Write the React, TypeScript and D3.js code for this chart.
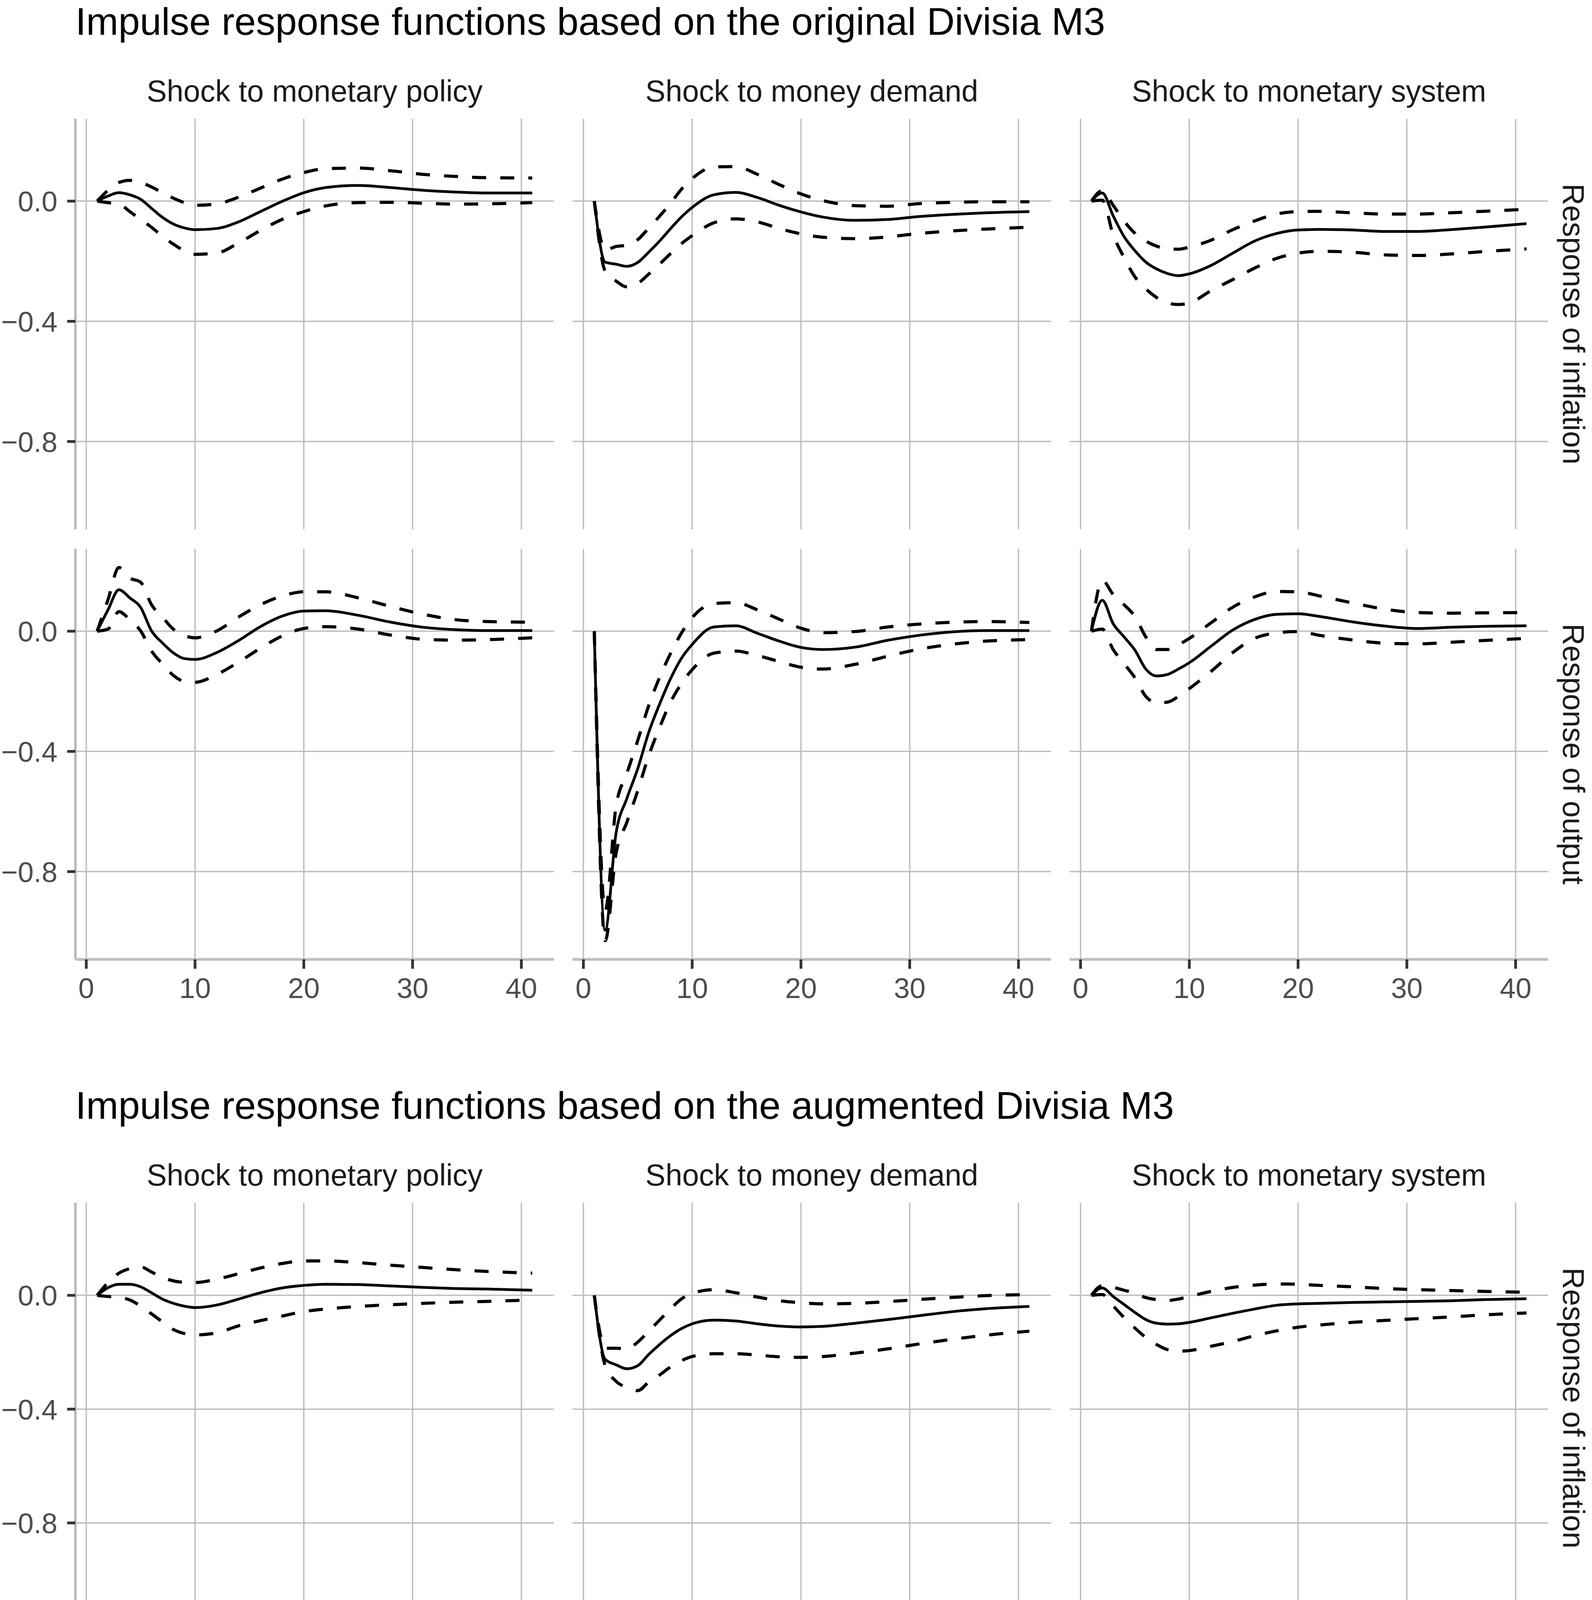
import React from "react";
import * as d3 from "d3";

// ---------------- DATA ----------------
const HORIZON = [1, 2, 3, 4, 5, 6, 7, 8, 9, 10, 12, 14, 16, 18, 20, 22, 25, 28, 31, 34, 37, 41];

const FIGURE_TITLES = [
  "Impulse response functions based on the original Divisia M3",
  "Impulse response functions based on the augmented Divisia M3",
];
const SHOCKS = ["Shock to monetary policy", "Shock to money demand", "Shock to monetary system"];
const RESPONSES = ["Response of inflation", "Response of output"];
const X_TICKS = [0, 10, 20, 30, 40];
const Y_TICKS = [-0.8, -0.4, 0.0];

// ---- Original Divisia M3 ----
// inflation, shock to monetary policy
const origPolicyInflMean = [0, 0.017, 0.028, 0.021, 0.006, -0.024, -0.054, -0.076, -0.089, -0.095, -0.091, -0.069, -0.035, -0.001, 0.028, 0.045, 0.052, 0.045, 0.036, 0.030, 0.027, 0.027];
const origPolicyInflUpper = [0, 0.036, 0.062, 0.069, 0.062, 0.047, 0.028, 0.010, -0.005, -0.014, -0.009, 0.013, 0.043, 0.073, 0.095, 0.108, 0.110, 0.101, 0.089, 0.082, 0.078, 0.077];
const origPolicyInflLower = [0, -0.005, -0.009, -0.035, -0.061, -0.087, -0.117, -0.143, -0.165, -0.177, -0.173, -0.139, -0.098, -0.061, -0.035, -0.016, -0.005, -0.004, -0.007, -0.010, -0.009, -0.005];
// inflation, shock to money demand
const origDemandInflMean = [0, -0.203, -0.210, -0.217, -0.204, -0.170, -0.133, -0.092, -0.053, -0.021, 0.021, 0.029, 0.012, -0.014, -0.036, -0.053, -0.064, -0.061, -0.051, -0.044, -0.039, -0.035];
const origDemandInflUpper = [0, -0.163, -0.151, -0.147, -0.128, -0.090, -0.050, -0.008, 0.039, 0.075, 0.114, 0.115, 0.089, 0.055, 0.024, 0.002, -0.015, -0.017, -0.008, -0.004, -0.002, -0.002];
const origDemandInflLower = [0, -0.233, -0.266, -0.285, -0.274, -0.243, -0.210, -0.175, -0.142, -0.115, -0.072, -0.059, -0.069, -0.091, -0.109, -0.120, -0.125, -0.119, -0.107, -0.099, -0.093, -0.087];
// inflation, shock to monetary system
const origSystemInflMean = [0, 0.027, -0.049, -0.118, -0.165, -0.203, -0.226, -0.241, -0.248, -0.242, -0.214, -0.173, -0.133, -0.108, -0.096, -0.094, -0.096, -0.101, -0.101, -0.095, -0.087, -0.075];
const origSystemInflUpper = [0, 0.035, -0.014, -0.066, -0.107, -0.133, -0.150, -0.159, -0.160, -0.153, -0.130, -0.095, -0.066, -0.043, -0.035, -0.034, -0.039, -0.043, -0.043, -0.039, -0.034, -0.027];
const origSystemInflLower = [0, 0.003, -0.112, -0.188, -0.252, -0.292, -0.321, -0.339, -0.344, -0.339, -0.298, -0.261, -0.223, -0.191, -0.173, -0.167, -0.170, -0.179, -0.181, -0.176, -0.168, -0.159];
// output, shock to monetary policy
const origPolicyOutMean = [0, 0.071, 0.138, 0.111, 0.079, 0.001, -0.039, -0.072, -0.091, -0.094, -0.071, -0.031, 0.015, 0.050, 0.067, 0.068, 0.053, 0.030, 0.013, 0.005, 0.002, 0.002];
const origPolicyOutUpper = [0, 0.105, 0.212, 0.177, 0.163, 0.088, 0.047, 0.007, -0.014, -0.022, 0.001, 0.047, 0.088, 0.117, 0.131, 0.131, 0.111, 0.082, 0.056, 0.038, 0.032, 0.030];
const origPolicyOutLower = [0, 0.007, 0.065, 0.038, 0.001, -0.066, -0.109, -0.147, -0.167, -0.170, -0.144, -0.103, -0.057, -0.016, 0.009, 0.015, 0.007, -0.013, -0.027, -0.030, -0.028, -0.022];
// output, shock to money demand
const origDemandOutMean = [0, -0.995, -0.672, -0.556, -0.457, -0.337, -0.243, -0.159, -0.091, -0.044, 0.014, 0.018, -0.007, -0.033, -0.054, -0.061, -0.053, -0.030, -0.013, -0.002, 0.002, 0.002];
const origDemandOutUpper = [0, -0.930, -0.583, -0.473, -0.363, -0.248, -0.154, -0.075, -0.007, 0.045, 0.092, 0.095, 0.071, 0.040, 0.010, -0.005, -0.001, 0.014, 0.024, 0.030, 0.032, 0.029];
const origDemandOutLower = [0, -1.030, -0.740, -0.635, -0.530, -0.415, -0.321, -0.237, -0.175, -0.128, -0.073, -0.066, -0.081, -0.101, -0.120, -0.126, -0.110, -0.083, -0.059, -0.043, -0.033, -0.028];
// output, shock to monetary system
const origSystemOutMean = [0, 0.103, 0.025, -0.019, -0.063, -0.126, -0.149, -0.144, -0.126, -0.105, -0.050, 0.004, 0.039, 0.056, 0.058, 0.049, 0.031, 0.017, 0.009, 0.013, 0.016, 0.018];
const origSystemOutUpper = [0, 0.169, 0.122, 0.088, 0.049, -0.019, -0.061, -0.061, -0.045, -0.024, 0.028, 0.080, 0.114, 0.132, 0.131, 0.117, 0.094, 0.073, 0.062, 0.060, 0.061, 0.062];
const origSystemOutLower = [0, 0.007, -0.061, -0.108, -0.155, -0.217, -0.238, -0.236, -0.217, -0.191, -0.134, -0.071, -0.024, -0.006, -0.001, -0.014, -0.029, -0.040, -0.042, -0.037, -0.031, -0.024];

// ---- Augmented Divisia M3 ----
const augPolicyInflMean = [0, 0.027, 0.039, 0.039, 0.030, 0.009, -0.013, -0.028, -0.038, -0.043, -0.034, -0.013, 0.009, 0.026, 0.035, 0.039, 0.038, 0.033, 0.028, 0.024, 0.022, 0.018];
const augPolicyInflUpper = [0, 0.045, 0.078, 0.094, 0.100, 0.082, 0.063, 0.051, 0.046, 0.045, 0.057, 0.076, 0.096, 0.112, 0.121, 0.121, 0.115, 0.106, 0.098, 0.090, 0.084, 0.078];
const augPolicyInflLower = [0, -0.004, -0.007, -0.016, -0.038, -0.065, -0.093, -0.120, -0.134, -0.139, -0.132, -0.107, -0.089, -0.073, -0.057, -0.048, -0.039, -0.033, -0.028, -0.024, -0.021, -0.016];
const augDemandInflMean = [0, -0.225, -0.244, -0.258, -0.247, -0.208, -0.173, -0.142, -0.117, -0.100, -0.087, -0.090, -0.100, -0.108, -0.111, -0.109, -0.098, -0.085, -0.071, -0.057, -0.047, -0.039];
const augDemandInflUpper = [0, -0.186, -0.186, -0.188, -0.164, -0.126, -0.087, -0.048, -0.013, 0.007, 0.020, 0.009, -0.006, -0.019, -0.026, -0.030, -0.028, -0.022, -0.014, -0.007, -0.001, 0.003];
const augDemandInflLower = [0, -0.247, -0.302, -0.324, -0.335, -0.305, -0.280, -0.252, -0.230, -0.215, -0.205, -0.205, -0.210, -0.216, -0.218, -0.215, -0.203, -0.188, -0.170, -0.154, -0.140, -0.126];
const augSystemInflMean = [0, 0.026, -0.004, -0.032, -0.060, -0.085, -0.098, -0.101, -0.100, -0.095, -0.079, -0.063, -0.048, -0.035, -0.030, -0.028, -0.025, -0.023, -0.021, -0.019, -0.015, -0.012];
const augSystemInflUpper = [0, 0.034, 0.028, 0.018, 0.007, -0.008, -0.015, -0.018, -0.013, -0.004, 0.014, 0.028, 0.036, 0.040, 0.039, 0.035, 0.030, 0.024, 0.020, 0.017, 0.014, 0.011];
const augSystemInflLower = [0, 0.003, -0.037, -0.078, -0.115, -0.148, -0.173, -0.191, -0.196, -0.194, -0.179, -0.162, -0.142, -0.125, -0.112, -0.104, -0.095, -0.088, -0.082, -0.076, -0.069, -0.062];
const augPolicyOutMean = [0, 0.113, 0.168, 0.154, 0.143, 0.086, 0.044, 0.016, -0.007, -0.018, -0.019, -0.005, 0.010, 0.021, 0.025, 0.024, 0.019, 0.013, 0.007, 0.004, 0.002, 0.000];
const augPolicyOutUpper = [0, 0.199, 0.251, 0.260, 0.251, 0.188, 0.141, 0.099, 0.075, 0.065, 0.063, 0.070, 0.080, 0.087, 0.089, 0.086, 0.075, 0.063, 0.052, 0.044, 0.039, 0.031];
const augPolicyOutLower = [0, 0.016, 0.073, 0.052, 0.037, -0.005, -0.045, -0.073, -0.089, -0.096, -0.092, -0.075, -0.059, -0.042, -0.034, -0.028, -0.028, -0.029, -0.030, -0.030, -0.030, -0.029];
const augDemandOutMean = [0, -0.995, -0.733, -0.644, -0.555, -0.450, -0.356, -0.272, -0.199, -0.141, -0.068, -0.035, -0.023, -0.019, -0.016, -0.010, -0.002, 0.006, 0.013, 0.016, 0.016, 0.014];
const augDemandOutUpper = [0, -0.920, -0.654, -0.565, -0.471, -0.366, -0.262, -0.178, -0.105, -0.052, 0.008, 0.039, 0.047, 0.050, 0.052, 0.054, 0.059, 0.063, 0.066, 0.067, 0.064, 0.058];
const augDemandOutLower = [0, -1.052, -0.806, -0.723, -0.618, -0.513, -0.419, -0.335, -0.272, -0.236, -0.162, -0.124, -0.108, -0.097, -0.089, -0.079, -0.063, -0.047, -0.034, -0.024, -0.019, -0.016];
const augSystemOutMean = [0, 0.117, 0.008, -0.029, -0.054, -0.089, -0.105, -0.110, -0.105, -0.094, -0.068, -0.040, -0.019, -0.004, 0.004, 0.007, 0.007, 0.005, 0.003, 0.002, 0.002, 0.002];
const augSystemOutUpper = [0, 0.209, 0.094, 0.068, 0.042, 0.010, -0.010, -0.019, -0.019, -0.013, 0.002, 0.021, 0.035, 0.044, 0.047, 0.047, 0.045, 0.042, 0.039, 0.036, 0.032, 0.029];
const augSystemOutLower = [0, 0.016, -0.073, -0.120, -0.149, -0.178, -0.197, -0.202, -0.197, -0.186, -0.152, -0.110, -0.079, -0.058, -0.044, -0.039, -0.037, -0.034, -0.030, -0.027, -0.023, -0.019];

type Band = { mean: number[]; upper: number[]; lower: number[] };

// panels[figure][row][col]
const PANELS: Band[][][] = [
  [
    [
      { mean: origPolicyInflMean, upper: origPolicyInflUpper, lower: origPolicyInflLower },
      { mean: origDemandInflMean, upper: origDemandInflUpper, lower: origDemandInflLower },
      { mean: origSystemInflMean, upper: origSystemInflUpper, lower: origSystemInflLower },
    ],
    [
      { mean: origPolicyOutMean, upper: origPolicyOutUpper, lower: origPolicyOutLower },
      { mean: origDemandOutMean, upper: origDemandOutUpper, lower: origDemandOutLower },
      { mean: origSystemOutMean, upper: origSystemOutUpper, lower: origSystemOutLower },
    ],
  ],
  [
    [
      { mean: augPolicyInflMean, upper: augPolicyInflUpper, lower: augPolicyInflLower },
      { mean: augDemandInflMean, upper: augDemandInflUpper, lower: augDemandInflLower },
      { mean: augSystemInflMean, upper: augSystemInflUpper, lower: augSystemInflLower },
    ],
    [
      { mean: augPolicyOutMean, upper: augPolicyOutUpper, lower: augPolicyOutLower },
      { mean: augDemandOutMean, upper: augDemandOutUpper, lower: augDemandOutLower },
      { mean: augSystemOutMean, upper: augSystemOutUpper, lower: augSystemOutLower },
    ],
  ],
];

// ---------------- LAYOUT ----------------
const W = 4075;
const H = 5356;
const FIG_TOP = [0, 2775];
const PANEL_LEFT0 = 193;
const COL_STEP = 1272.5;
const PANEL_W = 1225;
const ROW_TOP = [304, 1405];
const PANEL_H = 1051;

const FONT = "'Liberation Sans', Arial, Helvetica, sans-serif";
const GRID = "#BEBEBE";
const AXIS_LINE = "#BEBEBE";
const TICK = "#333333";
const AXIS_TEXT = "#4D4D4D";
const STRIP_TEXT = "#1A1A1A";

function expand(ext: [number, number], mult = 0.05): [number, number] {
  const d = ext[1] - ext[0];
  return [ext[0] - d * mult, ext[1] + d * mult];
}

const fmtY = (v: number) => {
  const s = d3.format(".1f")(Math.abs(v));
  return v < 0 ? "\u2212" + s : s;
};

function Figure({ fi }: { fi: number }) {
  const top = FIG_TOP[fi];
  const all: number[] = [];
  PANELS[fi].forEach((row) => row.forEach((p) => all.push(...p.mean, ...p.upper, ...p.lower)));
  const yDomain = expand(d3.extent(all) as [number, number]);
  const xDomain = expand(d3.extent(HORIZON) as [number, number]);

  const elems: React.ReactNode[] = [];

  elems.push(
    <text key="title" x={PANEL_LEFT0} y={top + 89} fontSize={99} fill="#000" fontFamily={FONT}>
      {FIGURE_TITLES[fi]}
    </text>
  );

  for (let r = 0; r < 2; r++) {
    for (let c = 0; c < 3; c++) {
      const left = PANEL_LEFT0 + c * COL_STEP;
      const ptop = top + ROW_TOP[r];
      const x = d3.scaleLinear().domain(xDomain).range([left, left + PANEL_W]);
      const y = d3.scaleLinear().domain(yDomain).range([ptop + PANEL_H, ptop]);
      const band = PANELS[fi][r][c];
      const line = d3
        .line<number>()
        .x((_, i) => x(HORIZON[i]))
        .y((v) => y(v))
        .curve(d3.curveMonotoneX);
      const key = `${fi}-${r}-${c}`;
      elems.push(
        <g key={key}>
          {Y_TICKS.map((t) => (
            <line key={"gy" + t} x1={left} x2={left + PANEL_W} y1={y(t)} y2={y(t)} stroke={GRID} strokeWidth={3.5} />
          ))}
          {X_TICKS.map((t) => (
            <line key={"gx" + t} x1={x(t)} x2={x(t)} y1={ptop} y2={ptop + PANEL_H} stroke={GRID} strokeWidth={3.5} />
          ))}
          <path d={line(band.upper) || ""} fill="none" stroke="#000" strokeWidth={8} strokeDasharray="36,36" />
          <path d={line(band.lower) || ""} fill="none" stroke="#000" strokeWidth={8} strokeDasharray="36,36" />
          <path d={line(band.mean) || ""} fill="none" stroke="#000" strokeWidth={7} strokeLinejoin="round" />
          {c === 0 && (
            <g>
              <line x1={left} x2={left} y1={ptop} y2={ptop + PANEL_H} stroke={AXIS_LINE} strokeWidth={7} />
              {Y_TICKS.map((t) => (
                <g key={"ty" + t}>
                  <line x1={left - 21} x2={left} y1={y(t)} y2={y(t)} stroke={TICK} strokeWidth={7} />
                  <text x={left - 46} y={y(t)} dy="0.36em" textAnchor="end" fontSize={73} fill={AXIS_TEXT} fontFamily={FONT}>
                    {fmtY(t)}
                  </text>
                </g>
              ))}
            </g>
          )}
          {r === 1 && (
            <g>
              <line x1={left} x2={left + PANEL_W} y1={ptop + PANEL_H} y2={ptop + PANEL_H} stroke={AXIS_LINE} strokeWidth={7} />
              {X_TICKS.map((t) => (
                <g key={"tx" + t}>
                  <line x1={x(t)} x2={x(t)} y1={ptop + PANEL_H} y2={ptop + PANEL_H + 24} stroke={TICK} strokeWidth={7} />
                  <text x={x(t)} y={ptop + PANEL_H + 99} textAnchor="middle" fontSize={73} fill={AXIS_TEXT} fontFamily={FONT}>
                    {t}
                  </text>
                </g>
              ))}
            </g>
          )}
          {r === 0 && (
            <text x={left + PANEL_W / 2} y={ptop - 44} textAnchor="middle" fontSize={77} fill={STRIP_TEXT} fontFamily={FONT}>
              {SHOCKS[c]}
            </text>
          )}
          {c === 2 && (
            <text
              transform={`translate(${left + PANEL_W + 38}, ${ptop + PANEL_H / 2}) rotate(90)`}
              textAnchor="middle"
              fontSize={77}
              fill={STRIP_TEXT}
              fontFamily={FONT}
            >
              {RESPONSES[r]}
            </text>
          )}
        </g>
      );
    }
  }
  return <g>{elems}</g>;
}

export default function App() {
  return (
    <div>
      <style>{`body{margin:0;}`}</style>
      <svg width={W} height={H} viewBox={`0 0 ${W} ${H}`} style={{ display: "block", background: "#fff" }}>
        <rect x={0} y={0} width={W} height={H} fill="#fff" />
        <Figure fi={0} />
        <Figure fi={1} />
      </svg>
    </div>
  );
}
